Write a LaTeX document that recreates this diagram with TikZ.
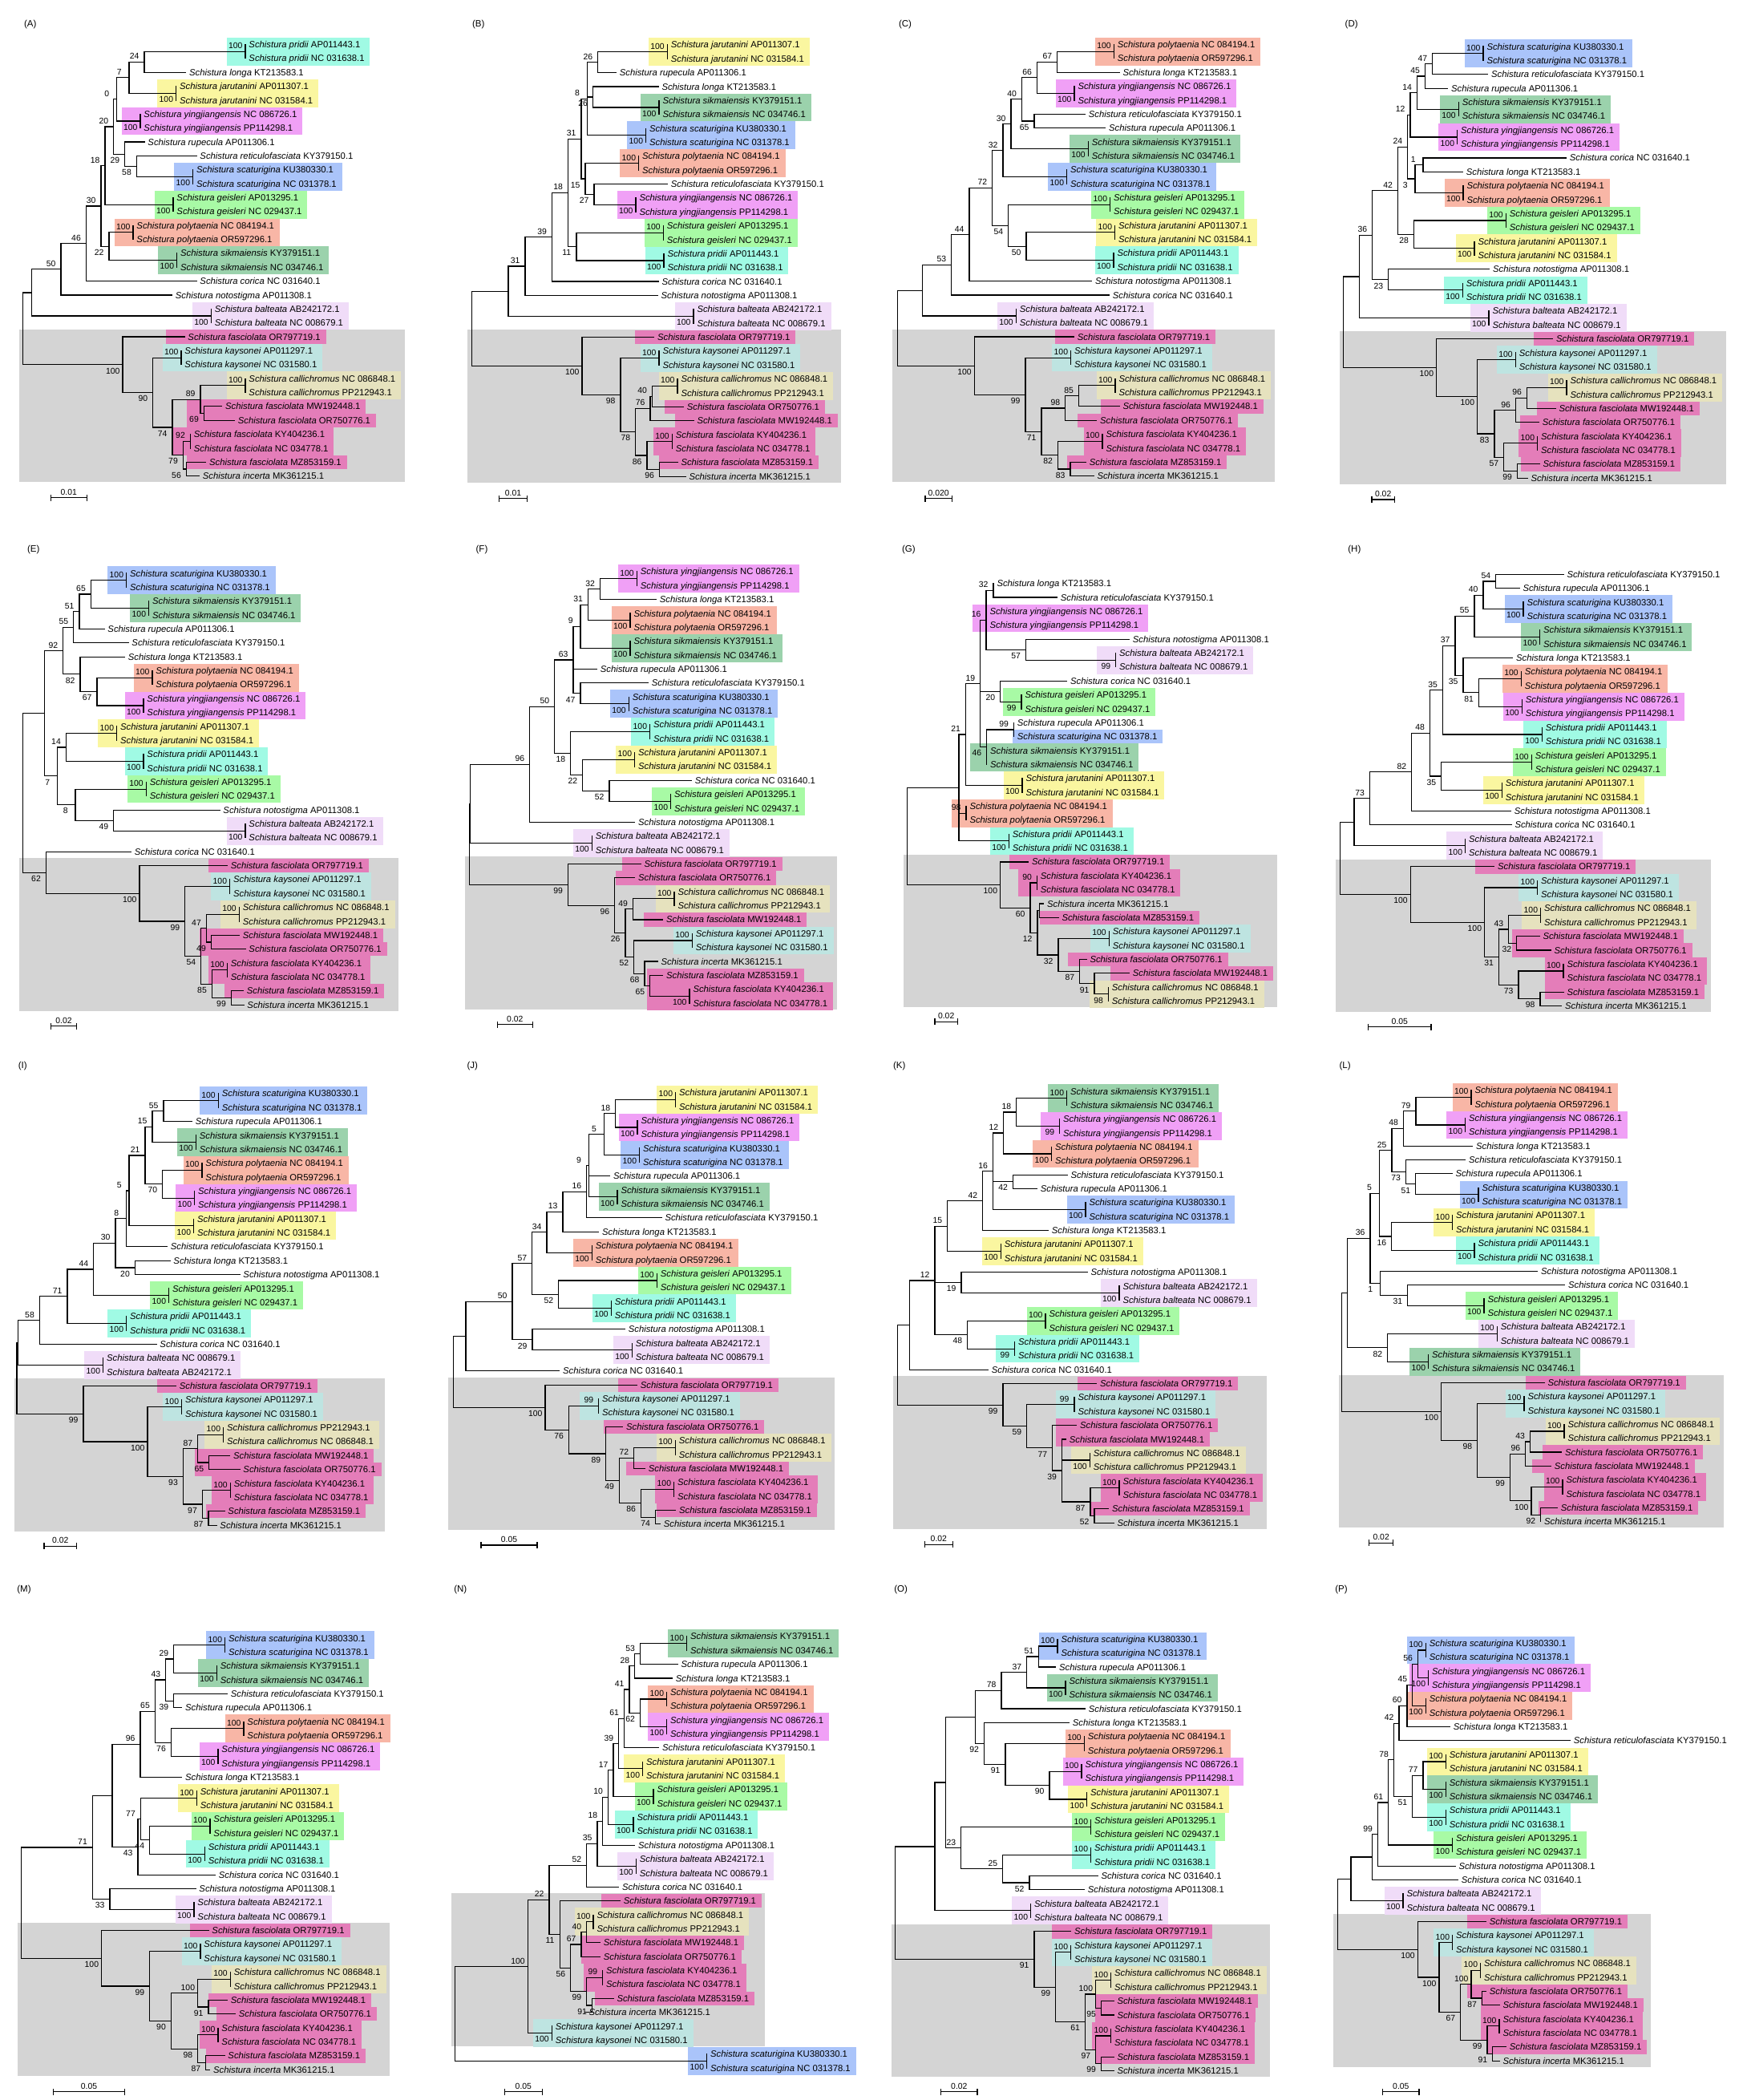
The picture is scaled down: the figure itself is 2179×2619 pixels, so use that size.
\documentclass[tikz,border=0pt]{standalone}
\usepackage{fontspec}
\setmainfont{Liberation Sans}
\usetikzlibrary{fit}
\pgfdeclarelayer{graylayer}
\pgfdeclarelayer{hllayer}
\pgfsetlayers{graylayer,hllayer,main}

\definecolor{cPri}{RGB}{160,250,228}
\definecolor{cJar}{RGB}{250,246,160}
\definecolor{cYin}{RGB}{240,160,246}
\definecolor{cSca}{RGB}{170,196,250}
\definecolor{cGei}{RGB}{168,250,165}
\definecolor{cPol}{RGB}{248,182,166}
\definecolor{cSik}{RGB}{155,210,172}
\definecolor{cBal}{RGB}{240,220,248}
\definecolor{cFas}{RGB}{228,125,185}
\definecolor{cKay}{RGB}{190,228,225}
\definecolor{cCal}{RGB}{230,226,190}
\definecolor{cGray}{RGB}{212,212,212}

\newcommand\lfont{\fontsize{11.3}{13}\selectfont}
\newcommand\bfont{\fontsize{10.4}{12}\selectfont}
\def\SX{0.33333pt}
\def\SY{-0.42373pt}
\def\Dy{40.97}
\def\BoxOff{70}

\tikzset{
  br/.style={line width=1.2pt, line cap=rect},
  leaf/.style={anchor=west, inner sep=0pt, xshift=4.3pt, font=\lfont, text height=8.1pt, text depth=0pt},
  bsa/.style={anchor=south, inner sep=0pt, xshift=-12.3pt, yshift=3.3pt, font=\bfont, text height=7.4pt, text depth=0pt},
  bsb/.style={anchor=north, inner sep=0pt, xshift=-12.3pt, yshift=-3.6pt, font=\bfont, text height=7.4pt, text depth=0pt},
  plabel/.style={font=\fontsize{11.5}{13}\selectfont, inner sep=0pt},
  sblbl/.style={anchor=south, font=\bfont, inner sep=0pt, text depth=0pt},
}

\makeatletter
\newcommand\DL[4]{\@namedef{LS@#1}{#2}\@namedef{LA@#1}{#3}\@namedef{LC@#1}{#4}}
\DL{pA}{pridii}{AP011443.1}{cPri}
\DL{pN}{pridii}{NC 031638.1}{cPri}
\DL{lo}{longa}{KT213583.1}{}
\DL{jA}{jarutanini}{AP011307.1}{cJar}
\DL{jN}{jarutanini}{NC 031584.1}{cJar}
\DL{yN}{yingjiangensis}{NC 086726.1}{cYin}
\DL{yP}{yingjiangensis}{PP114298.1}{cYin}
\DL{ru}{rupecula}{AP011306.1}{}
\DL{re}{reticulofasciata}{KY379150.1}{}
\DL{sK}{scaturigina}{KU380330.1}{cSca}
\DL{sN}{scaturigina}{NC 031378.1}{cSca}
\DL{gA}{geisleri}{AP013295.1}{cGei}
\DL{gN}{geisleri}{NC 029437.1}{cGei}
\DL{tN}{polytaenia}{NC 084194.1}{cPol}
\DL{tO}{polytaenia}{OR597296.1}{cPol}
\DL{kK}{sikmaiensis}{KY379151.1}{cSik}
\DL{kN}{sikmaiensis}{NC 034746.1}{cSik}
\DL{co}{corica}{NC 031640.1}{}
\DL{no}{notostigma}{AP011308.1}{}
\DL{bA}{balteata}{AB242172.1}{cBal}
\DL{bN}{balteata}{NC 008679.1}{cBal}
\DL{f1}{fasciolata}{OR797719.1}{cFas}
\DL{aA}{kaysonei}{AP011297.1}{cKay}
\DL{aN}{kaysonei}{NC 031580.1}{cKay}
\DL{cN}{callichromus}{NC 086848.1}{cCal}
\DL{cP}{callichromus}{PP212943.1}{cCal}
\DL{fM}{fasciolata}{MW192448.1}{cFas}
\DL{fO}{fasciolata}{OR750776.1}{cFas}
\DL{fK}{fasciolata}{KY404236.1}{cFas}
\DL{fN}{fasciolata}{NC 034778.1}{cFas}
\DL{fZ}{fasciolata}{MZ853159.1}{cFas}
\DL{ic}{incerta}{MK361215.1}{}

\newcommand\Lf[3]{%
  \pgfmathsetmacro\tmpy{\Yz+\Dy*(#2-1)}%
  \expandafter\xdef\csname Y@\Pn @#1\endcsname{\tmpy}%
  \expandafter\gdef\csname B@\Pn @#1\endcsname{}%
  \coordinate (#1) at (#3,\tmpy);
  \node[leaf] (L#1) at (#1) {\textit{Schistura \@nameuse{LS@#1}} \@nameuse{LA@#1}};%
}
\newcommand\HL[5]{%
  \pgfmathsetmacro\hltop{\Yz+\Dy*(#3-1)-\Dy/2}%
  \pgfmathsetmacro\hlbot{\Yz+\Dy*(#4-1)+\Dy/2}%
  \node[fit=#5, inner xsep=6.5pt, inner ysep=0pt] (hlfit) {};
  \coordinate (hltl) at (#2,\hltop);
  \coordinate (hlb) at (0,\hlbot);
  \begin{pgfonlayer}{hllayer}
    \fill[fill=#1] (hltl) rectangle (hlfit.east |- hlb);
  \end{pgfonlayer}%
}
\newcommand\Lh[4][]{%
  \Lf{#2}{#3}{#4}%
  \if\relax\detokenize{#1}\relax\pgfmathsetmacro\hlleft{#4-\BoxOff}\else\def\hlleft{#1}\fi
  \edef\hlcol{\@nameuse{LC@#2}}%
  \HL{\hlcol}{\hlleft}{#3}{#3}{(L#2)}%
}
\newcommand\Pos[2]{\expandafter\def\csname P@\Pn @#1\endcsname{#2}}
\newcommand\Nd[4]{%
  \gdef\NdFirst{}\gdef\NdLast{}%
  \foreach \NdC in {#4}{\ifx\NdFirst\empty\xdef\NdFirst{\NdC}\fi\xdef\NdLast{\NdC}}%
  \edef\NdYa{\csname Y@\Pn @\NdFirst\endcsname}%
  \edef\NdYb{\csname Y@\Pn @\NdLast\endcsname}%
  \pgfmathsetmacro\tmpy{(\NdYa+\NdYb)/2}%
  \expandafter\xdef\csname Y@\Pn @#1\endcsname{\tmpy}%
  \expandafter\gdef\csname B@\Pn @#1\endcsname{#3}%
  \coordinate (#1) at (#2,\tmpy);
  \foreach \NdC in {#4}{%
    \draw[br] (#1) |- (\NdC);
    \edef\NdCC{\NdC}%
    \ifx\NdCC\NdFirst\def\NdPos{a}\else\def\NdPos{b}\fi
    \expandafter\ifx\csname P@\Pn @\NdC\endcsname\relax\else\edef\NdPos{\csname P@\Pn @\NdC\endcsname}\fi
    \edef\NdB{\csname B@\Pn @\NdC\endcsname}%
    \if a\NdPos\node[bsa] at (\NdC) {\NdB};\else\node[bsb] at (\NdC) {\NdB};\fi
  }%
}
\newcommand\Pair[7][]{%
  \Lf{#5}{#3}{#4}%
  \pgfmathtruncatemacro\nextrow{#3+1}%
  \Lf{#6}{\nextrow}{#4}%
  \Nd{#2}{#4}{#7}{#5,#6}%
  \if\relax\detokenize{#1}\relax\pgfmathsetmacro\hlleft{#4-\BoxOff}\else\def\hlleft{#1}\fi
  \edef\hlcol{\@nameuse{LC@#5}}%
  \HL{\hlcol}{\hlleft}{#3}{\nextrow}{(L#5)(L#6)}%
}
\newcommand\Gray[3]{%
  \pgfmathsetmacro\gtop{\Yz+\Dy*(#2-1)-22}%
  \pgfmathsetmacro\gbot{\Yz+\Dy*(#3-1)+18}%
  \node[fit=(Lf1)(LaA)(LaN)(LcN)(LcP)(LfM)(LfO)(LfK)(LfN)(LfZ)(Lic), inner xsep=11pt, inner ysep=0pt] (gfit) {};
  \coordinate (gtl) at (#1,\gtop);
  \coordinate (gb) at (0,\gbot);
  \begin{pgfonlayer}{graylayer}
    \fill[cGray] (gtl) rectangle (gfit.east |- gb);
  \end{pgfonlayer}%
}
\newcommand\Sbar[4]{%
  \draw[br] (#1,#3) -- (#2,#3);
  \draw[br] (#1,#3-8) -- (#1,#3+8);
  \draw[br] (#2,#3-8) -- (#2,#3+8);
  \pgfmathsetmacro\sbm{(#1+#2)/2}%
  \node[sblbl] at (\sbm,#3-8) {#4};
}
\makeatother

\begin{document}
\begin{tikzpicture}
\useasboundingbox (0,0) rectangle (2179pt,-2619pt);
\begin{pgfonlayer}{graylayer}
\fill[white] (0,0) rectangle (2179pt,-2619pt);
\end{pgfonlayer}

% ---------------- A
\begin{scope}[shift={(0pt,0pt)},x=\SX,y=\SY,name prefix=A-]
\def\Pn{A}\def\Yz{131}
\node[plabel] at (113,73) {(A)};
\Pair{pri}{1}{918}{pA}{pN}{100}
\Lf{lo}{3}{695}
\Pair{jar}{4}{659}{jA}{jN}{100}
\Pair{yin}{6}{525}{yN}{yP}{100}
\Lf{ru}{8}{540}
\Lf{re}{9}{735}
\Pair{sca}{10}{722}{sK}{sN}{100}
\Pair{gei}{12}{648}{gA}{gN}{100}
\Pair{pol}{14}{498}{tN}{tO}{100}
\Pair{sik}{16}{662}{kK}{kN}{100}
\Lf{co}{18}{735}
\Lf{no}{19}{643}
\Pair{bal}{20}{790}{bA}{bN}{100}
\Lh{f1}{22}{690}
\Pair{kay}{23}{678}{aA}{aN}{100}
\Pair{cal}{25}{918}{cN}{cP}{100}
\Lh[700]{fM}{27}{830}
\Lh[700]{fO}{28}{877}
\Pair{fkn}{29}{712}{fK}{fN}{92}
\Lh{fZ}{31}{770}
\Lf{ic}{32}{745}
\Nd{n1}{540}{24}{pri,lo}
\Nd{n2}{483}{7}{n1,jar}
\Nd{n3}{437}{0}{n2,yin}
\Nd{n4}{511}{58}{re,sca}
\Nd{n5}{467}{29}{ru,n4}
\Nd{n6}{425}{20}{n3,n5}
\Nd{n7}{393}{18}{n6,gei}
\Nd{n8}{408}{22}{pol,sik}
\Nd{n9}{378}{30}{n7,n8}
\Nd{n10}{322}{46}{n9,co}
\Nd{n11}{228}{50}{n10,no}
\Nd{n12}{118}{}{n11,bal}
\Nd{n13}{763}{69}{fM,fO}
\Nd{n14}{750}{89}{cal,n13}
\Nd{n15}{697}{56}{fZ,ic}
\Nd{n16}{685}{79}{fkn,n15}
\Nd{n17}{645}{74}{n14,n16}
\Nd{n18}{572}{90}{kay,n17}
\Nd{n19}{459}{100}{f1,n18}
\Nd{root}{86}{}{n12,n19}
\Gray{72}{22}{32}
\Sbar{190}{325}{1465}{0.01}
\end{scope}

% ---------------- B
\begin{scope}[shift={(545pt,0pt)},x=\SX,y=\SY,name prefix=B-]
\def\Pn{B}\def\Yz{132}
\node[plabel] at (155,73) {(B)};
\Pair{jar}{1}{862}{jA}{jN}{100}
\Lf{ru}{3}{670}
\Lf{lo}{4}{828}
\Pair{sik}{5}{831}{kK}{kN}{100}
\Pair{sca}{7}{782}{sK}{sN}{100}
\Pair{pol}{9}{755}{tN}{tO}{100}
\Lf{re}{11}{862}
\Pair{yin}{12}{744}{yN}{yP}{100}
\Pair{gei}{14}{847}{gA}{gN}{100}
\Pair{pri}{16}{849}{pA}{pN}{100}
\Lf{co}{18}{828}
\Lf{no}{19}{825}
\Pair{bal}{20}{960}{bA}{bN}{100}
\Lh{f1}{22}{812}
\Pair{kay}{23}{831}{aA}{aN}{100}
\Pair{cal}{25}{900}{cN}{cP}{100}
\Lh{fO}{27}{922}
\Lh{fM}{28}{960}
\Pair{fkn}{29}{880}{fK}{fN}{100}
\Lh{fZ}{31}{900}
\Lf{ic}{32}{930}
\Nd{n1}{602}{26}{jar,ru}
\Nd{n2}{583}{26}{lo,sik}
\Nd{n3}{562}{8}{n1,n2,sca}
\Nd{n4}{588}{27}{re,yin}
\Nd{n5}{555}{15}{pol,n4}
\Nd{n6}{540}{31}{n3,n5}
\Nd{n7}{522}{11}{gei,pri}
\Nd{n8}{490}{18}{n6,n7}
\Nd{n9}{430}{39}{n8,co}
\Nd{n10}{330}{31}{n9,no}
\Nd{n11}{267}{}{n10,bal}
\Nd{n12}{832}{96}{fZ,ic}
\Nd{n13}{786}{86}{fkn,n12}
\Nd{n14}{805}{40}{cal,fO}
\Nd{n15}{798}{76}{n14,fM}
\Nd{n16}{743}{78}{n15,n13}
\Nd{n17}{687}{98}{kay,n16}
\Nd{n18}{543}{100}{f1,n17}
\Nd{root}{130}{}{n11,n18}
\Gray{115}{22}{32}
\Sbar{232}{338}{1467}{0.01}
\end{scope}

% ---------------- C
\begin{scope}[shift={(1090pt,0pt)},x=\SX,y=\SY,name prefix=C-]
\def\Pn{C}\def\Yz{131}
\node[plabel] at (117,73) {(C)};
\Pair{pol}{1}{898}{tN}{tO}{100}
\Lf{lo}{3}{918}
\Pair{yin}{4}{750}{yN}{yP}{100}
\Lf{re}{6}{790}
\Lf{ru}{7}{866}
\Pair{sik}{8}{802}{kK}{kN}{100}
\Pair{sca}{10}{722}{sK}{sN}{100}
\Pair{gei}{12}{884}{gA}{gN}{100}
\Pair{jar}{14}{902}{jA}{jN}{100}
\Pair{pri}{16}{897}{pA}{pN}{100}
\Lf{no}{18}{815}
\Lf{co}{19}{880}
\Pair{bal}{20}{532}{bA}{bN}{100}
\Lh{f1}{22}{748}
\Pair{kay}{23}{737}{aA}{aN}{100}
\Pair{cal}{25}{903}{cN}{cP}{100}
\Lh{fM}{27}{918}
\Lh{fO}{28}{833}
\Pair{fkn}{29}{855}{fK}{fN}{100}
\Lh{fZ}{31}{793}
\Lf{ic}{32}{822}
\Nd{n1}{686}{67}{pol,lo}
\Nd{n2}{610}{66}{n1,yin}
\Nd{n3}{600}{65}{re,ru}
\Nd{n4}{553}{40}{n2,n3}
\Nd{n5}{513}{30}{n4,sik}
\Nd{n6}{483}{32}{n5,sca}
\Nd{n7}{570}{50}{jar,pri}
\Nd{n8}{503}{54}{gei,n7}
\Nd{n9}{443}{72}{n6,n8}
\Nd{n10}{357}{44}{n9,no}
\Nd{n11}{290}{53}{n10,co}
\Nd{n12}{182}{}{n11,bal}
\Nd{n13}{766}{85}{cal,fM}
\Nd{n14}{716}{98}{n13,fO}
\Nd{n15}{735}{83}{fZ,ic}
\Nd{n16}{688}{82}{fkn,n15}
\Nd{n17}{627}{71}{n14,n16}
\Nd{n18}{567}{99}{kay,n17}
\Nd{n19}{376}{100}{f1,n18}
\Nd{root}{88}{}{n12,n19}
\Gray{69}{22}{32}
\Sbar{192}{292}{1467}{0.020}
\end{scope}

% ---------------- D
\begin{scope}[shift={(1635pt,0pt)},x=\SX,y=\SY,name prefix=D-]
\def\Pn{D}\def\Yz{137}
\node[plabel] at (152,73) {(D)};
\Pair{sca}{1}{645}{sK}{sN}{100}
\Lf{re}{3}{662}
\Lf{ru}{4}{512}
\Pair{sik}{5}{553}{kK}{kN}{100}
\Pair{yin}{7}{548}{yN}{yP}{100}
\Lf{co}{9}{955}
\Lf{lo}{10}{568}
\Pair{pol}{11}{570}{tN}{tO}{100}
\Pair{gei}{13}{730}{gA}{gN}{100}
\Pair{jar}{15}{612}{jA}{jN}{100}
\Lf{no}{17}{668}
\Pair{pri}{18}{568}{pA}{pN}{100}
\Pair{bal}{20}{666}{bA}{bN}{100}
\Lh{f1}{22}{905}
\Pair{kay}{23}{766}{aA}{aN}{100}
\Pair{cal}{25}{957}{cN}{cP}{100}
\Lh{fM}{27}{915}
\Lh{fO}{28}{853}
\Pair{fkn}{29}{848}{fK}{fN}{100}
\Lh{fZ}{31}{855}
\Lf{ic}{32}{810}
\Nd{n1}{455}{47}{sca,re}
\Nd{n2}{427}{45}{n1,ru}
\Nd{n3}{397}{14}{n2,sik}
\Nd{n4}{372}{12}{n3,yin}
\Nd{n5}{420}{1}{co,lo}
\Nd{n6}{390}{3}{n5,pol}
\Nd{n7}{362}{24}{n4,n6}
\Nd{n8}{385}{28}{gei,jar}
\Nd{n9}{325}{42}{n7,n8}
\Nd{n10}{290}{23}{no,pri}
\Nd{n11}{230}{36}{n9,n10}
\Nd{n12}{182}{}{n11,bal}
\Nd{n13}{808}{96}{cal,fM}
\Nd{n14}{766}{96}{n13,fO}
\Nd{n15}{772}{99}{fZ,ic}
\Nd{n16}{722}{57}{fkn,n15}
\Nd{n17}{687}{83}{n14,n16}
\Nd{n18}{623}{100}{kay,n17}
\Nd{n19}{470}{100}{f1,n18}
\Nd{root}{122}{}{n12,n19}
\Gray{107}{22}{32}
\Sbar{228}{313}{1470}{0.02}
\end{scope}

% ---------------- E
\begin{scope}[shift={(0pt,-640pt)},x=\SX,y=\SY,name prefix=E-]
\def\Pn{E}\def\Yz{177}
\node[plabel] at (125,107) {(E)};
\Pair{sca}{1}{473}{sK}{sN}{100}
\Pair{sik}{3}{557}{kK}{kN}{100}
\Lf{ru}{5}{390}
\Lf{re}{6}{480}
\Lf{lo}{7}{466}
\Pair{pol}{8}{570}{tN}{tO}{100}
\Pair{yin}{10}{537}{yN}{yP}{100}
\Pair{jar}{12}{437}{jA}{jN}{100}
\Pair{pri}{14}{537}{pA}{pN}{100}
\Pair{gei}{16}{547}{gA}{gN}{100}
\Lf{no}{18}{822}
\Pair{bal}{19}{918}{bA}{bN}{100}
\Lf{co}{21}{490}
\Lh{f1}{22}{850}
\Pair{kay}{23}{860}{aA}{aN}{100}
\Pair{cal}{25}{895}{cN}{cP}{100}
\Lh[748]{fM}{27}{895}
\Lh[748]{fO}{28}{918}
\Pair{fkn}{29}{850}{fK}{fN}{100}
\Lh{fZ}{31}{910}
\Lf{ic}{32}{912}
\Nd{n1}{340}{65}{sca,sik}
\Nd{n2}{297}{51}{n1,ru}
\Nd{n3}{275}{55}{n2,re}
\Nd{n4}{363}{67}{pol,yin}
\Nd{n5}{300}{82}{lo,n4}
\Nd{n6}{236}{92}{n3,n5}
\Nd{n7}{247}{14}{jar,pri}
\Nd{n8}{425}{49}{no,bal}
\Nd{n9}{282}{8}{gei,n8}
\Nd{n10}{215}{7}{n7,n9}
\Nd{n11}{167}{}{n6,n10}
\Nd{n13}{790}{49}{fM,fO}
\Nd{n14}{772}{47}{cal,n13}
\Nd{n15}{865}{99}{fZ,ic}
\Nd{n16}{793}{85}{fkn,n15}
\Nd{n17}{752}{54}{n14,n16}
\Nd{n18}{692}{99}{kay,n17}
\Nd{n19}{522}{100}{f1,n18}
\Nd{n12}{172}{62}{co,n19}
\Nd{root}{86}{}{n11,n12}
\Gray{72}{22}{32}
\Sbar{190}{287}{1510}{0.02}
\end{scope}

% ---------------- F
\begin{scope}[shift={(545pt,-640pt)},x=\SX,y=\SY,name prefix=F-]
\def\Pn{F}\def\Yz{172}
\node[plabel] at (168,107) {(F)};
\Pair{yin}{1}{748}{yN}{yP}{100}
\Lf{lo}{3}{820}
\Pair{pol}{4}{723}{tN}{tO}{100}
\Pair{sik}{6}{723}{kK}{kN}{100}
\Lf{ru}{8}{598}
\Lf{re}{9}{790}
\Pair{sca}{10}{718}{sK}{sN}{100}
\Pair{pri}{12}{797}{pA}{pN}{100}
\Pair{jar}{14}{740}{jA}{jN}{100}
\Lf{co}{16}{952}
\Pair{gei}{17}{875}{gA}{gN}{100}
\Lf{no}{19}{740}
\Pair{bal}{20}{580}{bA}{bN}{100}
\Lh{f1}{22}{762}
\Lh{fO}{23}{740}
\Pair{cal}{24}{888}{cN}{cP}{100}
\Lh{fM}{26}{845}
\Pair{kay}{27}{955}{aA}{aN}{100}
\Lf{ic}{29}{825}
\Lh[787]{fZ}{30}{845}
\Pair[787]{fkn}{31}{945}{fK}{fN}{100}
\Nd{n1}{610}{32}{yin,lo}
\Nd{n2}{565}{31}{n1,pol}
\Nd{n3}{537}{9}{n2,sik}
\Nd{n4}{537}{47}{re,sca}
\Nd{n5}{510}{63}{n3,ru,n4}
\Nd{n6}{645}{52}{co,gei}
\Nd{n7}{545}{22}{jar,n6}
\Nd{n8}{500}{18}{pri,n7}
\Nd{n9}{440}{50}{n5,n8}
\Nd{n10}{347}{96}{n9,no}
\Nd{n11}{125}{}{n10,bal}
\Nd{n12}{733}{49}{cal,fM}
\Nd{n13}{797}{65}{fZ,fkn}
\Nd{n14}{777}{68}{ic,n13}
\Nd{n15}{737}{52}{kay,n14}
\Nd{n16}{705}{26}{n12,n15}
\Nd{n17}{665}{96}{fO,n16}
\Nd{n18}{490}{99}{f1,n17}
\Nd{root}{122}{}{n11,n18}
\Gray{104}{22}{32}
\Sbar{226}{358}{1505}{0.02}
\end{scope}

% ---------------- G
\begin{scope}[shift={(1090pt,-640pt)},x=\SX,y=\SY,name prefix=G-]
\def\Pn{G}\def\Yz{207}
\node[plabel] at (130,107) {(G)};
\Lf{lo}{1}{447}
\Lf{re}{2}{685}
\Lf{yN}{3}{420}\Lf{yP}{4}{420}
\HL{cYin}{368}{3}{4}{(LyN)(LyP)}
\Lf{no}{5}{955}
\Pair{bal}{6}{905}{bA}{bN}{99}
\Lf{co}{8}{722}
\Pair{gei}{9}{552}{gA}{gN}{99}
\Lf{ru}{11}{523}
\Lh[520]{sN}{12}{523}
\Lf{kK}{13}{422}\Lf{kN}{14}{422}
\HL{cSik}{360}{13}{14}{(LkK)(LkN)}
\Pair{jar}{15}{555}{jA}{jN}{100}
\Pair[290]{pol}{17}{345}{tN}{tO}{98}
\Pair{pri}{19}{505}{pA}{pN}{100}
\Lh{f1}{21}{578}
\Pair{fkn}{22}{610}{fK}{fN}{90}
\Lf{ic}{24}{635}
\Lh{fZ}{25}{690}
\Pair{kay}{26}{880}{aA}{aN}{100}
\Lh{fO}{28}{795}
\Lh{fM}{29}{955}
\Pair{cal}{30}{877}{cN}{cP}{98}
\Nd{n1}{447}{32}{lo,re}
\Nd{n3}{568}{57}{no,bal}
\Nd{n2}{420}{16}{n1,yN,yP,n3}
\Nd{n4}{473}{20}{co,gei}
\Nd{n5}{523}{99}{ru,sN}
\Nd{n6}{422}{46}{n5,kK,kN}
\Nd{n7}{398}{19}{n2,n4,n6}
\Nd{n8}{343}{21}{n7,jar}
\Pos{pol}{a}
\Nd{n9}{318}{}{n8,pol,pri}
\Nd{n10}{825}{91}{fM,cal}
\Nd{n11}{770}{87}{fO,n10}
\Nd{n12}{690}{32}{kay,n11}
\Nd{na}{620}{}{ic,fZ}
\Nd{n13}{612}{12}{na,n12}
\Nd{n14}{585}{60}{fkn,n13}
\Nd{n15}{473}{100}{f1,n14}
\Nd{root}{125}{}{n9,n15}
\Gray{110}{21}{31}
\Sbar{228}{313}{1497}{0.02}
\end{scope}

% ---------------- H
\begin{scope}[shift={(1635pt,-640pt)},x=\SX,y=\SY,name prefix=H-]
\def\Pn{H}\def\Yz{180}
\node[plabel] at (163,107) {(H)};
\Lf{re}{1}{945}
\Lf{ru}{2}{780}
\Pair{sca}{3}{795}{sK}{sN}{100}
\Pair{sik}{5}{857}{kK}{kN}{100}
\Lf{lo}{7}{755}
\Pair{pol}{8}{787}{tN}{tO}{100}
\Pair{yin}{10}{790}{yN}{yP}{100}
\Pair{pri}{12}{865}{pA}{pN}{100}
\Pair{gei}{14}{826}{gA}{gN}{100}
\Pair{jar}{16}{715}{jA}{jN}{100}
\Lf{no}{18}{748}
\Lf{co}{19}{750}
\Pair{bal}{20}{578}{bA}{bN}{100}
\Lh{f1}{22}{686}
\Pair{kay}{23}{848}{aA}{aN}{100}
\Pair{cal}{25}{860}{cN}{cP}{100}
\Lh[752]{fM}{27}{855}
\Lh[752]{fO}{28}{897}
\Pair{fkn}{29}{945}{fK}{fN}{100}
\Lh{fZ}{31}{945}
\Lf{ic}{32}{938}
\Nd{n1}{692}{54}{re,ru}
\Nd{n2}{645}{40}{n1,sca}
\Nd{n3}{612}{55}{n2,sik}
\Nd{n4}{628}{81}{pol,yin}
\Nd{n5}{570}{35}{lo,n4}
\Nd{n6}{540}{37}{n3,n5}
\Nd{n7}{493}{35}{n6,pri}
\Nd{n8}{488}{35}{gei,jar}
\Nd{n9}{445}{48}{n7,n8}
\Nd{n10}{377}{82}{n9,no}
\Nd{n11}{220}{73}{n10,co}
\Nd{n12}{162}{}{n11,bal}
\Nd{n13}{770}{32}{fM,fO}
\Nd{n14}{740}{43}{cal,n13}
\Nd{n15}{858}{98}{fZ,ic}
\Nd{n16}{777}{73}{fkn,n15}
\Nd{n17}{703}{31}{n14,n16}
\Nd{n18}{650}{100}{kay,n17}
\Nd{n19}{373}{100}{f1,n18}
\Nd{root}{110}{}{n12,n19}
\Gray{92}{22}{32}
\Sbar{215}{450}{1512}{0.05}
\end{scope}

% ---------------- I
\begin{scope}[shift={(0pt,-1280pt)},x=\SX,y=\SY,name prefix=I-]
\def\Pn{I}\def\Yz{198}
\node[plabel] at (85,118) {(I)};
\Pair{sca}{1}{817}{sK}{sN}{100}
\Lf{ru}{3}{718}
\Pair{sik}{4}{733}{kK}{kN}{100}
\Pair{pol}{6}{756}{tN}{tO}{100}
\Pair{yin}{8}{728}{yN}{yP}{100}
\Pair{jar}{10}{725}{jA}{jN}{100}
\Lf{re}{12}{625}
\Lf{lo}{13}{636}
\Lf{no}{14}{897}
\Pair{gei}{15}{632}{gA}{gN}{100}
\Pair{pri}{17}{473}{pA}{pN}{100}
\Lf{co}{19}{585}
\Pair{bal}{20}{386}{bN}{bA}{100}
\Lh{f1}{22}{658}
\Pair{kay}{23}{680}{aA}{aN}{100}
\Pair{cal}{25}{836}{cP}{cN}{100}
\Lh[728]{fM}{27}{860}
\Lh[728]{fO}{28}{897}
\Pair{fkn}{29}{862}{fK}{fN}{100}
\Lh{fZ}{31}{840}
\Lf{ic}{32}{810}
\Nd{n1}{612}{55}{sca,ru}
\Nd{n2}{570}{15}{n1,sik}
\Nd{n3}{608}{70}{pol,yin}
\Nd{n4}{543}{21}{n2,n3}
\Nd{n5}{483}{5}{n4,jar}
\Nd{n6}{473}{8}{n5,re}
\Nd{n7}{505}{20}{lo,no}
\Nd{n8}{432}{30}{n6,n7}
\Nd{n9}{350}{44}{n8,gei}
\Nd{n10}{252}{71}{n9,pri}
\Nd{n11}{148}{58}{n10,co}
\Nd{n12}{68}{}{n11,bal}
\Nd{n13}{782}{65}{fM,fO}
\Nd{n14}{740}{87}{cal,n13}
\Nd{n15}{780}{87}{fZ,ic}
\Nd{n16}{757}{97}{fkn,n15}
\Nd{n17}{685}{93}{n14,n16}
\Nd{n18}{552}{100}{kay,n17}
\Nd{n19}{312}{99}{f1,n18}
\Nd{root}{63}{}{n12,n19}
\Gray{55}{22}{32}
\Sbar{165}{287}{1530}{0.02}
\end{scope}

% ---------------- J
\begin{scope}[shift={(545pt,-1280pt)},x=\SX,y=\SY,name prefix=J-]
\def\Pn{J}\def\Yz{195}
\node[plabel] at (133,118) {(J)};
\Pair{jar}{1}{893}{jA}{jN}{100}
\Pair{yin}{3}{750}{yN}{yP}{100}
\Pair{sca}{5}{758}{sK}{sN}{100}
\Lf{ru}{7}{647}
\Pair{sik}{8}{675}{kK}{kN}{100}
\Lf{re}{10}{840}
\Lf{lo}{11}{605}
\Pair{pol}{12}{580}{tN}{tO}{100}
\Pair{gei}{14}{823}{gA}{gN}{100}
\Pair{pri}{16}{652}{pA}{pN}{100}
\Lf{no}{18}{703}
\Pair{bal}{19}{730}{bA}{bN}{100}
\Lf{co}{21}{458}
\Lh{f1}{22}{748}
\Pair{kay}{23}{605}{aA}{aN}{99}
\Lh{fO}{25}{695}
\Pair{cal}{26}{892}{cN}{cP}{100}
\Lh{fM}{28}{778}
\Pair{fkn}{29}{887}{fK}{fN}{100}
\Lh{fZ}{31}{893}
\Lf{ic}{32}{835}
\Nd{n1}{668}{18}{jar,yin}
\Nd{n2}{625}{5}{n1,sca}
\Nd{n3}{568}{9}{n2,ru,sik}
\Nd{n4}{560}{16}{n3,re}
\Nd{n5}{471}{13}{n4,lo}
\Nd{n6}{411}{34}{n5,pol}
\Nd{n7}{455}{52}{gei,pri}
\Nd{n8}{356}{57}{n6,n7}
\Nd{n9}{357}{29}{no,bal}
\Nd{n10}{282}{50}{n8,n9}
\Nd{n11}{108}{}{n10,co}
\Nd{n12}{817}{74}{fZ,ic}
\Nd{n13}{763}{86}{fkn,n12}
\Nd{n14}{737}{72}{cal,fM}
\Nd{n15}{682}{49}{n14,n13}
\Nd{n16}{632}{89}{fO,n15}
\Nd{n17}{493}{76}{kay,n16}
\Nd{n18}{405}{100}{f1,n17}
\Nd{root}{62}{}{n11,n18}
\Gray{42}{22}{32}
\Sbar{165}{375}{1527}{0.05}
\end{scope}

% ---------------- K
\begin{scope}[shift={(1090pt,-1280pt)},x=\SX,y=\SY,name prefix=K-]
\def\Pn{K}\def\Yz{191}
\node[plabel] at (95,118) {(K)};
\Pair{sik}{1}{722}{kK}{kN}{100}
\Pair{yin}{3}{695}{yN}{yP}{99}
\Pair{pol}{5}{665}{tN}{tO}{100}
\Lf{re}{7}{723}
\Lf{ru}{8}{610}
\Pair{sca}{9}{792}{sK}{sN}{100}
\Lf{lo}{11}{652}
\Pair{jar}{12}{475}{jA}{jN}{100}
\Lf{no}{14}{798}
\Pair{bal}{15}{918}{bA}{bN}{100}
\Pair{gei}{17}{642}{gA}{gN}{100}
\Pair{pri}{19}{527}{pA}{pN}{99}
\Lf{co}{21}{427}
\Lh{f1}{22}{833}
\Pair{kay}{23}{750}{aA}{aN}{99}
\Lh[680]{fO}{25}{758}
\Lh[680]{fM}{26}{718}
\Pair{cal}{27}{808}{cN}{cP}{100}
\Pair{fkn}{29}{918}{fK}{fN}{100}
\Lh{fZ}{31}{878}
\Lf{ic}{32}{897}
\Nd{n1}{533}{18}{sik,yin}
\Nd{n2}{485}{12}{n1,pol}
\Nd{n3}{520}{42}{re,ru}
\Nd{n4}{445}{16}{n2,n3,sca}
\Nd{n5}{407}{42}{n4,lo}
\Nd{n6}{275}{15}{n5,jar}
\Nd{n7}{327}{19}{no,bal}
\Nd{n8}{350}{48}{gei,pri}
\Nd{n9}{228}{12}{n6,n7,n8}
\Nd{n10}{133}{}{n9,co}
\Nd{n11}{825}{52}{fZ,ic}
\Nd{n12}{810}{87}{fkn,n11}
\Nd{n13}{703}{39}{fM,cal,n12}
\Nd{n14}{668}{77}{fO,n13}
\Nd{n15}{572}{59}{kay,n14}
\Nd{n16}{483}{99}{f1,n15}
\Nd{root}{88}{}{n10,n16}
\Gray{73}{22}{32}
\Sbar{190}{295}{1525}{0.02}
\end{scope}

% ---------------- L
\begin{scope}[shift={(1635pt,-1280pt)},x=\SX,y=\SY,name prefix=L-]
\def\Pn{L}\def\Yz{188}
\node[plabel] at (128,118) {(L)};
\Pair{pol}{1}{600}{tN}{tO}{100}
\Pair{yin}{3}{578}{yN}{yP}{100}
\Lf{lo}{5}{605}
\Lf{re}{6}{578}
\Lf{ru}{7}{528}
\Pair{sca}{8}{627}{sK}{sN}{100}
\Pair{jar}{10}{530}{jA}{jN}{100}
\Pair{pri}{12}{612}{pA}{pN}{100}
\Lf{no}{14}{848}
\Lf{co}{15}{950}
\Pair{gei}{16}{648}{gA}{gN}{100}
\Pair{bal}{18}{697}{bA}{bN}{100}
\Pair{sik}{20}{440}{kK}{kN}{100}
\Lh{f1}{22}{873}
\Pair{kay}{23}{798}{aA}{aN}{100}
\Pair{cal}{25}{948}{cN}{cP}{100}
\Lh{fO}{27}{938}
\Lh{fM}{28}{898}
\Pair{fkn}{29}{942}{fK}{fN}{100}
\Lh{fZ}{31}{922}
\Lf{ic}{32}{860}
\Nd{n1}{393}{79}{pol,yin}
\Nd{n2}{346}{48}{n1,lo}
\Nd{n3}{392}{51}{ru,sca}
\Nd{n4}{355}{73}{re,n3}
\Nd{n5}{303}{25}{n2,n4}
\Nd{n6}{302}{16}{jar,pri}
\Nd{n7}{256}{5}{n5,n6}
\Nd{n8}{362}{31}{co,gei}
\Nd{n9}{260}{1}{no,n8}
\Nd{n10}{222}{36}{n7,n9}
\Nd{n11}{287}{82}{bal,sik}
\Nd{n12}{136}{}{n10,n11}
\Nd{n13}{820}{43}{cal,fO}
\Nd{n14}{803}{96}{n13,fM}
\Nd{n15}{860}{92}{fZ,ic}
\Nd{n16}{825}{100}{fkn,n15}
\Nd{n17}{745}{99}{n14,n16}
\Nd{n18}{623}{98}{kay,n17}
\Nd{n19}{488}{100}{f1,n18}
\Nd{root}{115}{}{n12,n19}
\Gray{104}{22}{32}
\Sbar{218}{308}{1520}{0.02}
\end{scope}

% ---------------- M
\begin{scope}[shift={(0pt,-1954pt)},x=\SX,y=\SY,name prefix=M-]
\def\Pn{M}\def\Yz{210}
\node[plabel] at (90,68) {(M)};
\Pair{sca}{1}{842}{sK}{sN}{100}
\Pair{sik}{3}{811}{kK}{kN}{100}
\Lf{re}{5}{850}
\Lf{ru}{6}{680}
\Pair{pol}{7}{912}{tN}{tO}{100}
\Pair{yin}{9}{816}{yN}{yP}{100}
\Lf{lo}{11}{680}
\Pair{jar}{12}{736}{jA}{jN}{100}
\Pair{gei}{14}{786}{gA}{gN}{100}
\Pair{pri}{16}{766}{pA}{pN}{100}
\Lf{co}{18}{805}
\Lf{no}{19}{732}
\Pair{bal}{20}{726}{bA}{bN}{100}
\Lh{f1}{22}{780}
\Pair{kay}{23}{750}{aA}{aN}{100}
\Pair{cal}{25}{862}{cN}{cP}{100}
\Lh{fM}{27}{850}
\Lh{fO}{28}{880}
\Pair{fkn}{29}{816}{fK}{fN}{100}
\Lh{fZ}{31}{840}
\Lf{ic}{32}{785}
\Nd{n1}{650}{29}{sca,sik}
\Nd{n2}{650}{39}{re,ru}
\Nd{n3}{620}{43}{n1,n2}
\Nd{n4}{640}{76}{pol,yin}
\Nd{n5}{580}{65}{n3,n4}
\Nd{n6}{525}{96}{n5,lo}
\Nd{n7}{560}{44}{gei,pri}
\Nd{n9}{526}{77}{jar,n7}
\Nd{n8}{516}{43}{n9,co}
\Nd{n10}{420}{}{n6,n8}
\Nd{n11}{411}{33}{no,bal}
\Nd{n12}{346}{71}{n10,n11}
\Nd{n13}{780}{91}{fM,fO}
\Nd{n14}{740}{100}{cal,n13}
\Nd{n15}{770}{87}{fZ,ic}
\Nd{n16}{740}{98}{fkn,n15}
\Nd{n17}{640}{90}{n14,n16}
\Nd{n18}{560}{99}{kay,n17}
\Nd{n19}{380}{100}{f1,n18}
\Nd{root}{80}{}{n12,n19}
\Gray{65}{22}{32}
\Sbar{200}{466}{1545}{0.05}
\end{scope}

% ---------------- N
\begin{scope}[shift={(545pt,-1954pt)},x=\SX,y=\SY,name prefix=N-]
\def\Pn{N}\def\Yz{205}
\node[plabel] at (88,68) {(N)};
\Pair{sik}{1}{935}{kK}{kN}{100}
\Lf{ru}{3}{900}
\Lf{lo}{4}{880}
\Pair{pol}{5}{860}{tN}{tO}{100}
\Pair{yin}{7}{860}{yN}{yP}{100}
\Lf{re}{9}{830}
\Pair{jar}{10}{770}{jA}{jN}{100}
\Pair{gei}{12}{810}{gA}{gN}{100}
\Pair{pri}{14}{735}{pA}{pN}{100}
\Lf{no}{16}{740}
\Pair{bal}{17}{745}{bA}{bN}{100}
\Lf{co}{19}{680}
\Lh{f1}{20}{685}
\Pair{cal}{21}{585}{cN}{cP}{100}
\Lh{fM}{23}{610}
\Lh{fO}{24}{610}
\Pair{fkn}{25}{620}{fK}{fN}{99}
\Lh{fZ}{27}{660}
\Lf{ic}{28}{555}
\Pair{kay}{29}{430}{aA}{aN}{100}
\Pair{sca}{31}{1010}{sK}{sN}{100}
\Nd{n1}{760}{53}{sik,ru}
\Nd{n2}{740}{28}{n1,lo}
\Nd{n3}{760}{62}{pol,yin}
\Nd{n4}{720}{41}{n2,n3}
\Nd{n5}{700}{61}{n4,re}
\Nd{n6}{680}{39}{n5,jar}
\Nd{n7}{660}{17}{n6,gei}
\Nd{n8}{640}{10}{n7,pri}
\Nd{n9}{620}{18}{n8,no}
\Nd{n10}{600}{35}{n9,bal}
\Nd{n11}{560}{52}{n10,co}
\Nd{n12}{560}{40}{cal,fM}
\Nd{n13}{540}{67}{n12,fO}
\Nd{n14}{580}{91}{fZ,ic}
\Nd{n15}{560}{99}{fkn,n14}
\Nd{n16}{500}{56}{n13,n15}
\Nd{n17}{460}{11}{f1,n16}
\Nd{n18}{420}{22}{n11,n17}
\Nd{n19}{340}{100}{n18,kay}
\Nd{root}{68}{}{n19,sca}
\Gray{53}{20}{30}
\Sbar{253}{394}{1545}{0.05}
\end{scope}

% ---------------- O
\begin{scope}[shift={(1090pt,-1954pt)},x=\SX,y=\SY,name prefix=O-]
\def\Pn{O}\def\Yz{213}
\node[plabel] at (101,68) {(O)};
\Pair{sca}{1}{687}{sK}{sN}{100}
\Lf{ru}{3}{680}
\Pair{sik}{4}{717}{kK}{kN}{100}
\Lf{re}{6}{790}
\Lf{lo}{7}{730}
\Pair{pol}{8}{787}{tN}{tO}{100}
\Pair{yin}{10}{777}{yN}{yP}{100}
\Pair{jar}{12}{797}{jA}{jN}{100}
\Pair{gei}{14}{812}{gA}{gN}{100}
\Pair{pri}{16}{812}{pA}{pN}{100}
\Lf{co}{18}{837}
\Lf{no}{19}{787}
\Pair{bal}{20}{587}{bA}{bN}{100}
\Lh{f1}{22}{737}
\Pair{kay}{23}{737}{aA}{aN}{100}
\Pair{cal}{25}{887}{cN}{cP}{100}
\Lh{fM}{27}{897}
\Lh{fO}{28}{897}
\Pair{fkn}{29}{887}{fK}{fN}{100}
\Lh{fZ}{31}{897}
\Lf{ic}{32}{897}
\Nd{n1}{617}{51}{sca,ru}
\Nd{n2}{572}{37}{n1,sik}
\Nd{n3}{477}{78}{n2,re}
\Nd{n4}{657}{90}{yin,jar}
\Nd{n5}{492}{91}{pol,n4}
\Nd{n6}{412}{92}{lo,n5}
\Nd{n7}{380}{}{n3,n6}
\Nd{n8}{582}{52}{co,no}
\Pos{n8}{b}
\Nd{n9}{482}{25}{pri,n8}
\Pos{n9}{a}
\Nd{n10}{326}{23}{gei,n9}
\Pos{n10}{a}
\Nd{n11}{268}{}{n7,n10}
\Nd{n12}{228}{}{n11,bal}
\Nd{n13}{850}{95}{fM,fO}
\Nd{n14}{830}{100}{cal,n13}
\Nd{n15}{850}{99}{fZ,ic}
\Nd{n16}{830}{97}{fkn,n15}
\Nd{n17}{790}{61}{n14,n16}
\Nd{n18}{680}{99}{kay,n17}
\Nd{n19}{600}{91}{f1,n18}
\Nd{root}{80}{}{n12,n19}
\Gray{65}{22}{32}
\Sbar{251}{387}{1545}{0.02}
\end{scope}

% ---------------- P
\begin{scope}[shift={(1635pt,-1954pt)},x=\SX,y=\SY,name prefix=P-]
\def\Pn{P}\def\Yz{225}
\node[plabel] at (114,68) {(P)};
\Pair{sca}{1}{430}{sK}{sN}{100}
\Pair{yin}{3}{440}{yN}{yP}{100}
\Pair{pol}{5}{430}{tN}{tO}{100}
\Lf{lo}{7}{520}
\Lf{re}{8}{970}
\Pair{jar}{9}{505}{jA}{jN}{100}
\Pair{sik}{11}{505}{kK}{kN}{100}
\Pair{pri}{13}{505}{pA}{pN}{100}
\Pair{gei}{15}{530}{gA}{gN}{100}
\Lf{no}{17}{540}
\Lf{co}{18}{550}
\Pair{bal}{19}{345}{bA}{bN}{100}
\Lh{f1}{21}{655}
\Pair{kay}{22}{530}{aA}{aN}{100}
\Pair{cal}{24}{635}{cN}{cP}{100}
\Lh{fO}{26}{655}
\Lh{fM}{27}{705}
\Pair{fkn}{28}{705}{fK}{fN}{100}
\Lh{fZ}{30}{730}
\Lf{ic}{31}{705}
\Nd{n1}{400}{56}{sca,yin}
\Nd{n2}{380}{45}{n1,pol}
\Nd{n3}{360}{60}{n2,lo}
\Nd{n4}{330}{42}{n3,re}
\Nd{n5}{420}{77}{jar,sik}
\Nd{n6}{380}{51}{n5,pri}
\Nd{n7}{310}{78}{n4,n6}
\Nd{n8}{290}{61}{n7,gei}
\Nd{n9}{250}{99}{n8,no}
\Nd{n10}{230}{}{n9,co}
\Nd{n11}{150}{}{n10,bal}
\Nd{n12}{640}{87}{fO,fM}
\Nd{n13}{600}{100}{cal,n12}
\Nd{n14}{680}{91}{fZ,ic}
\Nd{n15}{660}{99}{fkn,n14}
\Nd{n16}{560}{67}{n13,n15}
\Nd{n17}{480}{100}{kay,n16}
\Nd{n18}{400}{100}{f1,n17}
\Nd{root}{100}{}{n11,n18}
\Gray{85}{21}{31}
\Sbar{269}{405}{1545}{0.05}
\end{scope}
\end{tikzpicture}
\end{document}
